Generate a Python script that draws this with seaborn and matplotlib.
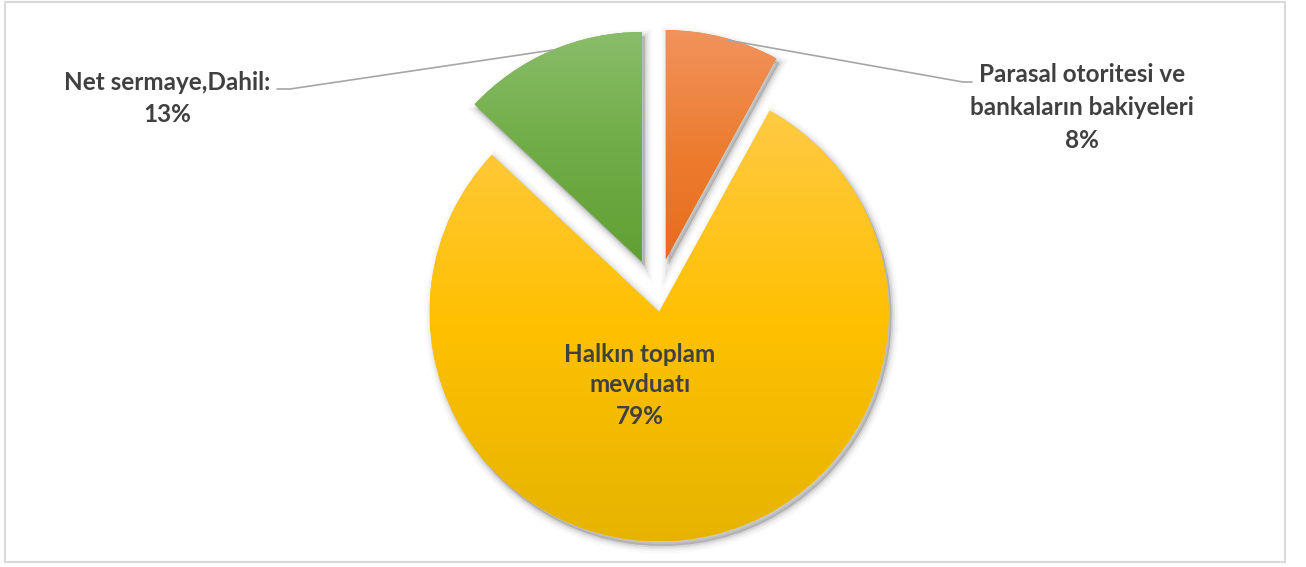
import numpy as np
import matplotlib
matplotlib.use("Agg")
import matplotlib.pyplot as plt
import seaborn as sns
from matplotlib.patches import Wedge, Rectangle
from matplotlib.colors import to_rgb

# Shares of the three components (percent), drawn clockwise from 12 o'clock
categories = ["Parasal otoritesi ve bankaların bakiyeleri",
              "Halkın toplam mevduatı",
              "Net sermaye,Dahil:"]
shares = [8, 79, 13]
label_lines = [["Parasal otoritesi ve", "bankaların bakiyeleri"],
               ["Halkın toplam", "mevduatı"],
               ["Net sermaye,Dahil:"]]
colors_base = ["#ED7D31", "#FFC000", "#70AD47"]
colors_top = ["#F1935D", "#FFCA45", "#8ABD6A"]
colors_bottom = ["#E86C1B", "#E6B400", "#60A033"]
explode_frac = [0.161, 0.073, 0.161]

sns.set_theme(style="white")
plt.rcParams["font.family"] = ["Lato", "DejaVu Sans"]

W, H = 1306, 567
fig = plt.figure(figsize=(W / 100, H / 100), dpi=100)
ax = fig.add_axes([0, 0, 1, 1])


def Y(y):
    """Convert a top-down pixel row into the axes' bottom-up coordinate."""
    return H - y


R = 229.5
wedges, _ = ax.pie(shares, colors=colors_base, startangle=90, counterclock=False,
                   explode=[e * R for e in explode_frac], radius=R,
                   center=(656.5, Y(295.4)),
                   wedgeprops=dict(linewidth=0, zorder=3))
ax.set_xlim(0, W)
ax.set_ylim(0, H)
ax.set_aspect("equal")
ax.axis("off")

# Soft drop shadows and three-stop vertical gradient fills for each slice
for w, ct, cm, cb in zip(wedges, colors_top, colors_base, colors_bottom):
    cx, cy = w.center
    for lw, a in [(11, 0.02), (8, 0.03), (5, 0.05), (2.5, 0.07)]:
        sh = Wedge((cx + 3, cy - 4.5), w.r, w.theta1, w.theta2,
                   facecolor=(0, 0, 0, a), edgecolor=(0, 0, 0, a),
                   linewidth=lw, zorder=2)
        ax.add_patch(sh)
    ext = w.get_path().get_extents()
    n = 256
    t = np.linspace(0, 1, n)
    top, mid, bot = (np.array(to_rgb(c)) for c in (ct, cm, cb))
    img = np.empty((n, 2, 3))
    for k in range(3):
        img[:, :, k] = np.interp(t, [0, 0.5, 1], [top[k], mid[k], bot[k]])[:, None]
    im = ax.imshow(img, extent=(ext.x0, ext.x1, ext.y0, ext.y1), origin="upper",
                   aspect="auto", zorder=4, interpolation="bilinear")
    im.set_clip_path(w)

ax.set_xlim(0, W)
ax.set_ylim(0, H)

txt = dict(color="#404040", fontweight="bold", fontsize=17.5, ha="center",
           va="center", zorder=6)

pct = [f"{s}%" for s in shares]

# Orange slice label with leader line
ax.plot([727, 963, 972], [Y(40), Y(82), Y(82)], color="#A6A6A6", lw=1.2, zorder=5)
for i, line in enumerate(label_lines[0] + [pct[0]]):
    ax.text(1082, Y(75 + 32.5 * i), line, **txt)

# Yellow slice label, inside
for i, line in enumerate(label_lines[1] + [pct[1]]):
    ax.text(640, Y(354 + 31 * i), line, **txt)

# Green slice label with leader line
ax.plot([553, 290, 277], [Y(50), Y(89), Y(89)], color="#A6A6A6", lw=1.2, zorder=5)
for i, line in enumerate(label_lines[2] + [pct[2]]):
    ax.text(167, Y(82 + 33 * i), line, **txt)

# Chart area border
ax.add_patch(Rectangle((5, Y(562)), 1280, 560, fill=False,
                       edgecolor="#D9D9D9", linewidth=1.5, zorder=1))

fig.savefig("out.png", dpi=100, facecolor="white")
